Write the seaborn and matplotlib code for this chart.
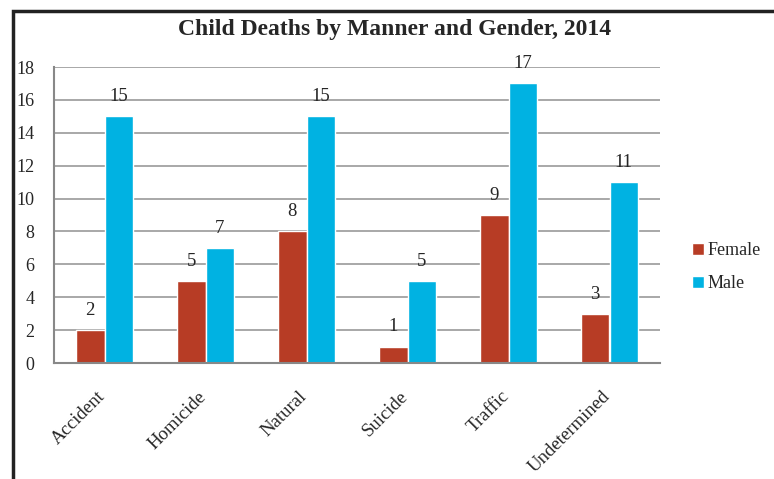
import pandas as pd
import matplotlib.pyplot as plt
import matplotlib.transforms as mtransforms
import seaborn as sns
from matplotlib.patches import Rectangle

manners = ['Accident', 'Homicide', 'Natural', 'Suicide', 'Traffic', 'Undetermined']
female = [2, 5, 8, 1, 9, 3]
male = [15, 7, 15, 5, 17, 11]
colors = {'Female': '#B73C25', 'Male': '#00B2E2'}

df = pd.DataFrame({
    'Manner': manners * 2,
    'Gender': ['Female'] * len(manners) + ['Male'] * len(manners),
    'Deaths': female + male,
})

sns.set_style('white')
plt.rcParams['font.family'] = ['Liberation Serif', 'DejaVu Serif']

fig = plt.figure(figsize=(7.74, 4.79), dpi=100)
ax = fig.add_axes([54 / 774, 1 - 363 / 479, (660 - 54) / 774, (363 - 67) / 479])

sns.barplot(data=df, x='Manner', y='Deaths', hue='Gender', palette=colors,
            width=0.57, gap=0, saturation=1, ax=ax, legend=True)

for cont in ax.containers:
    ax.bar_label(cont, padding=8, fontsize=13.5)

ax.set_ylim(0, 18)
ax.set_yticks(range(0, 19, 2))
ax.set_xlim(-0.5, 5.5)
ax.grid(axis='y', color='#999999', linewidth=1.2)
ax.set_axisbelow(True)
for side in ['top', 'right']:
    ax.spines[side].set_visible(False)
for side in ['left', 'bottom']:
    ax.spines[side].set_color('#888888')
    ax.spines[side].set_linewidth(1.5)
ax.tick_params(axis='y', labelsize=13, length=0, pad=14)
ax.tick_params(axis='x', labelsize=13.5, length=0, pad=18)
shift = mtransforms.ScaledTranslation(-8 / 100, 0, fig.dpi_scale_trans)
for lbl in ax.get_xticklabels():
    lbl.set_rotation(45)
    lbl.set_ha('right')
    lbl.set_rotation_mode('anchor')
    lbl.set_transform(lbl.get_transform() + shift)
ax.set_xlabel('')
ax.set_ylabel('')

ax.legend(title=None, frameon=False, fontsize=13, loc='center left',
          bbox_to_anchor=(692 / 774, 1 - 267 / 479), bbox_transform=fig.transFigure,
          borderaxespad=0, borderpad=0,
          handlelength=0.65, handleheight=0.65, handletextpad=0.2, labelspacing=0.9)

fig.suptitle('Child Deaths by Manner and Gender, 2014', fontweight='bold',
             fontsize=17, x=395 / 774, y=1 - 29 / 479, va='center')

fig.add_artist(Rectangle((13 / 774, -0.1), 1.0, 1 - 11 / 479 + 0.1,
                         transform=fig.transFigure, fill=False,
                         edgecolor='#222222', linewidth=2.5))

fig.savefig('out.png', dpi=100)
